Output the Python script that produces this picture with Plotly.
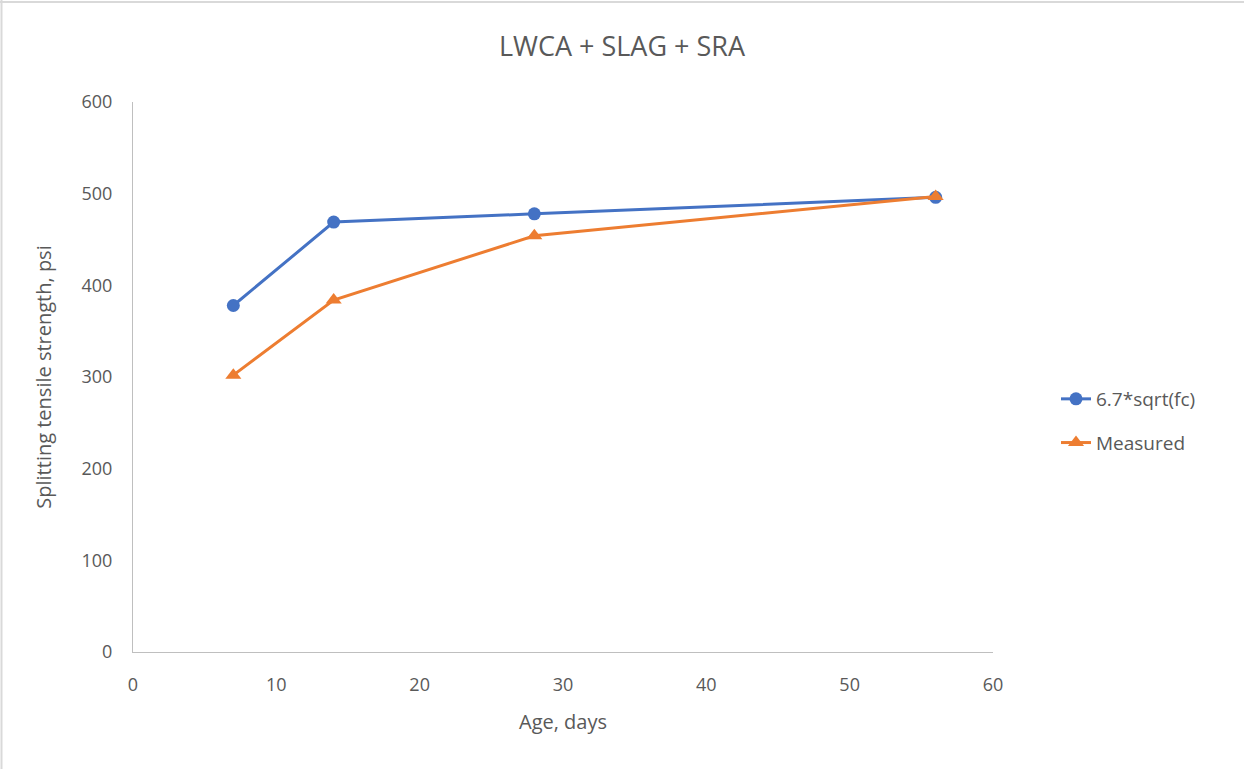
import plotly.graph_objects as go

age_days = [7, 14, 28, 56]
predicted = [378, 469, 478, 496]
measured = [302, 384, 454, 497]
x_ticks = [0, 10, 20, 30, 40, 50, 60]
y_ticks = [0, 100, 200, 300, 400, 500, 600]

W, H = 1244, 769
L, R, T, B = 133, 251, 102, 117
pw, ph = W - L - R, H - T - B

fig = go.Figure()
fig.add_trace(go.Scatter(x=age_days, y=predicted, name="6.7*sqrt(fc)", mode="lines+markers",
                         legendgroup="a",
                         line=dict(color="#4472C4", width=3),
                         marker=dict(symbol="circle", size=13, color="#4472C4")))
fig.add_trace(go.Scatter(x=age_days, y=measured, name="Measured", mode="lines+markers",
                         legendgroup="b",
                         line=dict(color="#ED7D31", width=3),
                         marker=dict(symbol="triangle-up", size=14, color="#ED7D31")))

font_family = "Open Sans, Liberation Sans, sans-serif"
grey = "#595959"
fig.update_layout(
    width=W, height=H,
    margin=dict(l=L, r=R, t=T, b=B),
    paper_bgcolor="white", plot_bgcolor="white",
    font=dict(family=font_family, color=grey, size=18),
    title=dict(text="LWCA + SLAG + SRA", x=0.5, xref="container", xanchor="center",
               y=1 - 47 / H, yref="container", yanchor="middle",
               font=dict(size=27, color=grey)),
    showlegend=True,
    legend=dict(x=(1056 - L) / pw, y=(652 - 421) / ph, xanchor="left", yanchor="middle",
                font=dict(size=19, color=grey), tracegroupgap=16,
                bgcolor="rgba(0,0,0,0)"),
    xaxis=dict(range=[0, 60], tickvals=x_ticks, showgrid=False, zeroline=False,
               showline=True, linecolor="#BFBFBF", linewidth=1,
               ticks="outside", ticklen=16, tickcolor="rgba(0,0,0,0)",
               title=dict(text="Age, days", font=dict(size=20, color=grey), standoff=20),
               tickfont=dict(size=18, color=grey)),
    yaxis=dict(range=[0, 600], tickvals=y_ticks, showgrid=False, zeroline=False,
               showline=True, linecolor="#BFBFBF", linewidth=1,
               ticks="outside", ticklen=16, tickcolor="rgba(0,0,0,0)",
               title=dict(text="Splitting tensile strength, psi", font=dict(size=20, color=grey), standoff=24),
               tickfont=dict(size=18, color=grey)),
)

# chart border (top and left edges visible)
fig.add_shape(type="line", xref="paper", yref="paper",
              x0=(0 - L) / pw, x1=(W - L) / pw, y0=(H - B - 2) / ph, y1=(H - B - 2) / ph,
              line=dict(color="#D9D9D9", width=2))
fig.add_shape(type="line", xref="paper", yref="paper",
              x0=(1.5 - L) / pw, x1=(1.5 - L) / pw, y0=(B - H) / ph, y1=(H - B) / ph,
              line=dict(color="#D9D9D9", width=2))

fig.write_html("out.html", config={"displayModeBar": False},
               post_script="document.body.style.margin='0';")
